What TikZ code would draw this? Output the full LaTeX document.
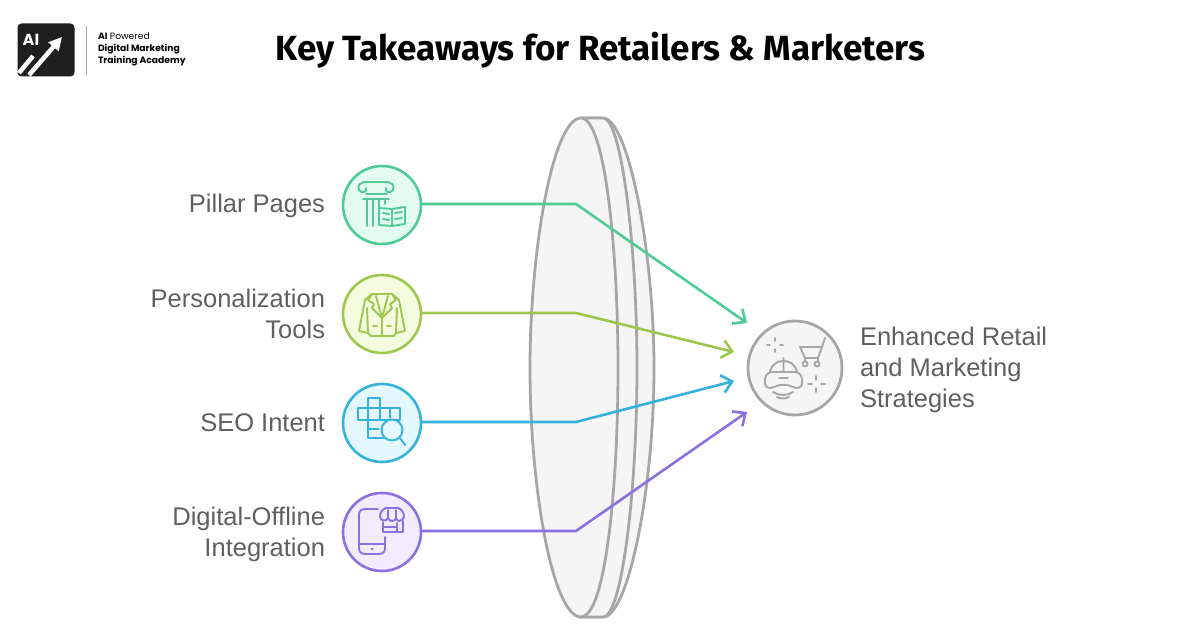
\documentclass[tikz,border=0pt]{standalone}
\usepackage{fontspec}
\setmainfont{Liberation Sans}
\newfontfamily\titlefont{Fira Sans}
\newfontfamily\logofont{Poppins}
\usetikzlibrary{positioning,arrows.meta}
\definecolor{lensgray}{HTML}{A6A6A6}
\definecolor{lensfill}{HTML}{F5F5F5}
\definecolor{labelgray}{HTML}{5F5F5F}
\definecolor{pillarline}{HTML}{4FCB95}
\definecolor{pillarfill}{HTML}{E3FBF1}
\definecolor{toolline}{HTML}{9CC64E}
\definecolor{toolfill}{HTML}{F3FCDF}
\definecolor{seoline}{HTML}{35B1DC}
\definecolor{seofill}{HTML}{E3F7FE}
\definecolor{shopline}{HTML}{8A70E0}
\definecolor{shopfill}{HTML}{F1EDFE}
\begin{document}
\begin{tikzpicture}[
  x=1pt, y=-1pt,
  every node/.style={inner sep=0pt, outer sep=0pt},
  badge/.style={draw=#1line, fill=#1fill, circle, line width=2.6pt, minimum size=78pt},
  glyph/.style={draw=#1line, line width=1.9pt, line join=round, line cap=round},
  link/.style={draw=#1line, line width=2.6pt, line join=round, -{Straight Barb[length=10pt,width=18pt,line width=2.6pt]}},
  caption/.style={text=labelgray, font=\fontsize{25.5}{31}\selectfont, align=right, anchor=east},
  lens/.style={draw=lensgray, fill=lensfill, line width=2.8pt},
  hubglyph/.style={draw=lensgray, line width=1.9pt, line join=round, line cap=round}
]
\useasboundingbox (0,0) rectangle (1200,628);

% logo
\node[fill=black!88, rounded corners=4pt, minimum width=57pt, minimum height=53pt] (logo) at (46,50) {};
\node[text=white, font=\logofont\bfseries\fontsize{16}{16}\selectfont] (logoai) at (31,40) {AI};
\draw[white, line width=4.5pt] (19,73) -- (33,56);
\draw[white, line width=4.5pt, -{Triangle[length=13pt,width=13pt]}] (29,75) -- (62,37);
\node[anchor=west, align=left, font=\logofont\fontsize{9.2}{11.8}\selectfont] (logotext) at (98,49.5) {\textbf{AI} Powered\\\textbf{Digital Marketing}\\\textbf{Training Academy}};
\draw[lensgray, line width=1pt] (86,26) -- (86,75);

% title
\node[font=\titlefont\bfseries\fontsize{35}{40}\selectfont] (title) at (600.5,50) {Key Takeaways for Retailers \& Marketers};

% lens
\draw[lens] (603,118) .. controls (628,118) and (654,250) .. (654,368) .. controls (654,490) and (628,617) .. (603,617) -- (581,617) -- (581,118) -- cycle;
\draw[lens] (603,118) .. controls (622,118) and (637,250) .. (637,368) .. controls (637,490) and (622,617) .. (603,617) -- (581,617) -- (581,118) -- cycle;
\draw[lens] (581,118) .. controls (553,118) and (530,250) .. (530,368) .. controls (530,490) and (553,617) .. (581,617) .. controls (605,617) and (618,490) .. (618,368) .. controls (618,250) and (605,118) .. (581,118) -- cycle;

% badges
\node[badge=pillar] (pillar) at (382,205) {};
\node[badge=tool] (tools) at (382,314) {};
\node[badge=seo] (seo) at (382,423) {};
\node[badge=shop] (shop) at (382,532) {};
\node[draw=lensgray, fill=lensfill, circle, line width=2.8pt, minimum size=94pt] (hub) at (795,368) {};

% labels
\node[caption] (pillarlabel) at (325,206) {Pillar Pages};
\node[caption] (toolslabel) at (325,314) {Personalization\\Tools};
\node[caption] (seolabel) at (325,423) {SEO Intent};
\node[caption] (shoplabel) at (325,534) {Digital-Offline\\Integration};
\node[caption, anchor=west, align=left] (hublabel) at (860,370) {Enhanced Retail\\and Marketing\\Strategies};

% connectors
\coordinate (bendA) at (576,204);
\coordinate (bendB) at (576,313);
\coordinate (bendC) at (576,422);
\coordinate (bendD) at (576,531);
\coordinate (tipA) at (747,323);
\coordinate (tipB) at (734,352);
\coordinate (tipC) at (734,381);
\coordinate (tipD) at (747,412);
\draw[link=pillar] (pillar.east |- bendA) -- (bendA) -- (tipA);
\draw[link=tool] (tools.east |- bendB) -- (bendB) -- (tipB);
\draw[link=seo] (seo.east |- bendC) -- (bendC) -- (tipC);
\draw[link=shop] (shop.east |- bendD) -- (bendD) -- (tipD);

% pillar icon
\draw[glyph=pillar] (367,226) -- (367,199) (373,226) -- (373,199) (379,199) -- (379,207) (385,199) -- (385,204);
\draw[glyph=pillar] (363,199) -- (389,199) (366,194) -- (387,194);
\draw[glyph=pillar] (366,188) .. controls (368,192) and (361,194) .. (359,190) .. controls (357,185) and (361,182) .. (366,182) -- (386,182) .. controls (391,182) and (395,185) .. (393,190) .. controls (391,194) and (384,192) .. (386,188);
\draw[glyph=pillar] (379,208) -- (379,225) -- (392,226) -- (392,209) -- cycle (392,209) -- (405,207) -- (405,224) -- (392,226) (383,213) -- (389,214) (383,219) -- (389,220) (395,213) -- (402,212) (395,219) -- (402,218);

% jacket icon
\draw[glyph=tool] (372,294) -- (392,294) -- (399,300) -- (405,331) -- (396,333) -- (394,336) -- (371,336) -- (368,333) -- (359,331) -- (365,300) -- cycle;
\draw[glyph=tool] (372,294) -- (368,300) -- (374,304) -- (372,308) -- (382,318) -- (392,308) -- (390,304) -- (396,300) -- (392,294) (376,296) -- (382,318) -- (388,296) (382,318) -- (382,336) (367,308) -- (368,333) (397,308) -- (396,333) (373,326) -- (377,326) (387,326) -- (391,326);

% crossword icon
\draw[glyph=seo] (368,398) -- (380,398) -- (380,408) (368,398) -- (368,438) -- (384,438) (358,408) rectangle (400,420) (380,408) -- (380,420) (368,429) -- (379,429) (390,408) -- (390,418);
\node[circle, draw=seoline, fill=seofill, line width=1.9pt, minimum size=21pt] (loupe) at (392,430) {};
\draw[glyph=seo] (loupe.south east) -- (405,445);

% shop icon
\draw[glyph=shop] (378,509) -- (366,509) .. controls (361,509) and (359,511) .. (359,515) -- (359,548) .. controls (359,552) and (361,554) .. (366,554) -- (378,554) .. controls (383,554) and (385,552) .. (385,548) -- (385,537) (359,544) -- (385,544);
\fill[shopline] (372,549) circle (1.5pt);
\draw[glyph=shop] (386,508) -- (398,508) .. controls (402,509) and (404,513) .. (404,517) .. controls (402,522) and (397,522) .. (396,518) .. controls (395,522) and (389,522) .. (388,518) .. controls (386,522) and (381,521) .. (380,517) .. controls (380,513) and (382,509) .. (386,508) -- cycle;
\draw[glyph=shop] (383,522) -- (383,532) -- (403,532) -- (403,521) (383,527) -- (397,527) (397,523) -- (397,532) (388,510) -- (388,517) (396,510) -- (396,517);

% hub icon
\draw[hubglyph] (765,384) .. controls (764,376) and (767,372) .. (773,372) -- (794,372) .. controls (800,372) and (803,376) .. (802,384) .. controls (801,388) and (797,389) .. (793,387) .. controls (787,384) and (780,384) .. (774,387) .. controls (770,389) and (766,388) .. (765,384) -- cycle;
\draw[hubglyph] (770,372) .. controls (772,364) and (777,361) .. (783.5,361) .. controls (790,361) and (795,364) .. (797,372) (783.5,358) -- (783.5,372) (779,378) -- (788,378) (773,392) .. controls (779,396) and (788,396) .. (793,392) (777,397) .. controls (781,399) and (785,399) .. (789,397);
\draw[hubglyph] (800,347) -- (822,347) -- (818,358) -- (805,358) -- cycle (822,347) -- (825,338) (805,358) -- (805,361) (818,358) -- (818,361);
\draw[hubglyph] (805,364) circle (2.5pt) (817,364) circle (2.5pt);
\draw[hubglyph] (775,338) -- (775,341) (775,349) -- (775,352) (767,345) -- (770,345) (780,345) -- (783,345);
\draw[hubglyph] (816,376) -- (816,380) (816,388) -- (816,392) (808,384) -- (812,384) (821,384) -- (825,384);
\end{tikzpicture}
\end{document}
